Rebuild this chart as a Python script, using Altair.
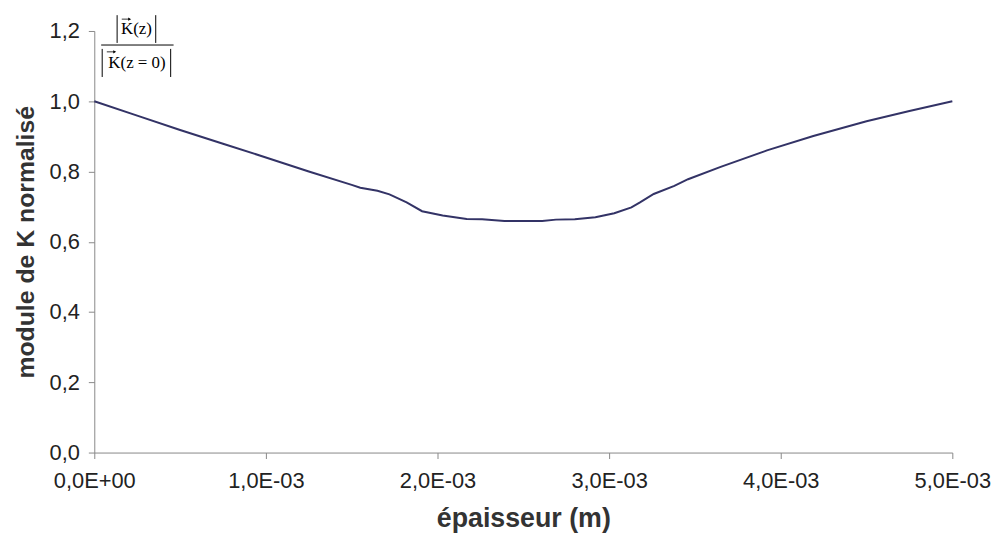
import altair as alt
import pandas as pd

# épaisseur (m)
thickness = [0, 0.25e-3, 0.5e-3, 0.75e-3, 1.0e-3, 1.25e-3, 1.5e-3, 1.55e-3, 1.65e-3, 1.72e-3,
             1.82e-3, 1.91e-3, 2.03e-3, 2.17e-3, 2.26e-3, 2.39e-3, 2.61e-3, 2.69e-3, 2.80e-3,
             2.92e-3, 3.03e-3, 3.13e-3, 3.18e-3, 3.26e-3, 3.38e-3, 3.46e-3, 3.65e-3, 3.92e-3,
             4.19e-3, 4.50e-3, 4.75e-3, 5.0e-3]
# module de K normalisé
k_norm = [1.0, 0.959, 0.918, 0.879, 0.840, 0.800, 0.762, 0.754, 0.745, 0.735,
          0.712, 0.687, 0.675, 0.665, 0.664, 0.659, 0.659, 0.663, 0.664,
          0.670, 0.681, 0.698, 0.712, 0.736, 0.759, 0.778, 0.813, 0.860,
          0.901, 0.943, 0.972, 1.0]

x_ticks = [0, 1e-3, 2e-3, 3e-3, 4e-3, 5e-3]
y_ticks = [0, 0.2, 0.4, 0.6, 0.8, 1.0, 1.2]

# formula annotation (fraction |K(z)| / |K(z=0)|) in data coordinates
frac_texts = ["K(z)", "K(z = 0)"]
frac_text_x = [0.2457e-3, 0.2486e-3]
frac_text_y = [1.2055, 1.1095]
arrow_x1 = [0.160e-3, 0.073e-3]
arrow_x2 = [0.206e-3, 0.119e-3]
arrow_y = [1.2337, 1.1406]
bar_x = [0.133e-3, 0.358e-3, 0.046e-3, 0.445e-3]
bar_y1 = [1.245, 1.245, 1.149, 1.149]
bar_y2 = [1.166, 1.166, 1.069, 1.069]
hline_x = [0.040e-3]
hline_x2 = [0.462e-3]
hline_y = [1.160]

df = pd.DataFrame({"x": thickness, "y": k_norm})
df_txt = pd.DataFrame({"x": frac_text_x, "y": frac_text_y, "t": frac_texts})
df_arr = pd.DataFrame({"x": arrow_x1, "x2": arrow_x2, "y": arrow_y})
df_bar = pd.DataFrame({"x": bar_x, "y": bar_y1, "y2": bar_y2})
df_hl = pd.DataFrame({"x": hline_x, "x2": hline_x2, "y": hline_y})

FONT = "Liberation Sans"
x_label_expr = ("datum.value == 0 ? '0,0E+00' : "
                "replace(format(datum.value*1000, '.1f'), '.', ',') + 'E-03'")
y_label_expr = "replace(format(datum.value, '.1f'), '.', ',')"

xscale = alt.Scale(domain=[0, 5e-3], nice=False, zero=False)
yscale = alt.Scale(domain=[0, 1.2], nice=False)

line = alt.Chart(df).mark_line(color="#333366", strokeWidth=2, clip=False).encode(
    x=alt.X("x:Q", scale=xscale,
            axis=alt.Axis(title="épaisseur (m)", values=x_ticks, labelExpr=x_label_expr,
                          grid=False, labelFlush=False, labelOverlap=False,
                          labelPadding=12, titlePadding=15, titleFontSize=27)),
    y=alt.Y("y:Q", scale=yscale,
            axis=alt.Axis(title="module de K normalisé", values=y_ticks, labelExpr=y_label_expr,
                          grid=False, labelFlush=False, labelOverlap=False,
                          labelPadding=9, titlePadding=11, titleFontSize=25)),
)

txt = alt.Chart(df_txt).mark_text(font="Liberation Serif", fontSize=17, color="#000000",
                                  baseline="middle", align="center", clip=False).encode(
    x=alt.X("x:Q", scale=xscale), y=alt.Y("y:Q", scale=yscale), text="t:N")

arr_line = alt.Chart(df_arr).mark_rule(color="#000000", strokeWidth=0.8, clip=False).encode(
    x=alt.X("x:Q", scale=xscale), x2="x2:Q", y=alt.Y("y:Q", scale=yscale))
arr_head = alt.Chart(df_arr).mark_point(shape="triangle-right", filled=True, size=12,
                                        color="#000000", opacity=1, clip=False).encode(
    x=alt.X("x2:Q", scale=xscale), y=alt.Y("y:Q", scale=yscale))

bars = alt.Chart(df_bar).mark_rule(color="#000000", strokeWidth=1, clip=False).encode(
    x=alt.X("x:Q", scale=xscale), y=alt.Y("y:Q", scale=yscale), y2="y2:Q")

hl = alt.Chart(df_hl).mark_rule(color="#000000", strokeWidth=1, clip=False).encode(
    x=alt.X("x:Q", scale=xscale), x2="x2:Q", y=alt.Y("y:Q", scale=yscale))

chart = alt.layer(line, txt, arr_line, arr_head, bars, hl).properties(
    width=865, height=425,
    autosize=alt.AutoSizeParams(type="none"),
    padding={"left": 87, "top": 21, "right": 41, "bottom": 87},
).configure_view(stroke=None).configure_axis(
    domainColor="#888888", tickColor="#888888", tickSize=6,
    labelFont=FONT, labelFontSize=22, labelColor="#222222",
    titleFont=FONT, titleFontWeight="bold", titleColor="#333333",
)

chart.save("out.html", embed_options={"renderer": "svg", "actions": False})
